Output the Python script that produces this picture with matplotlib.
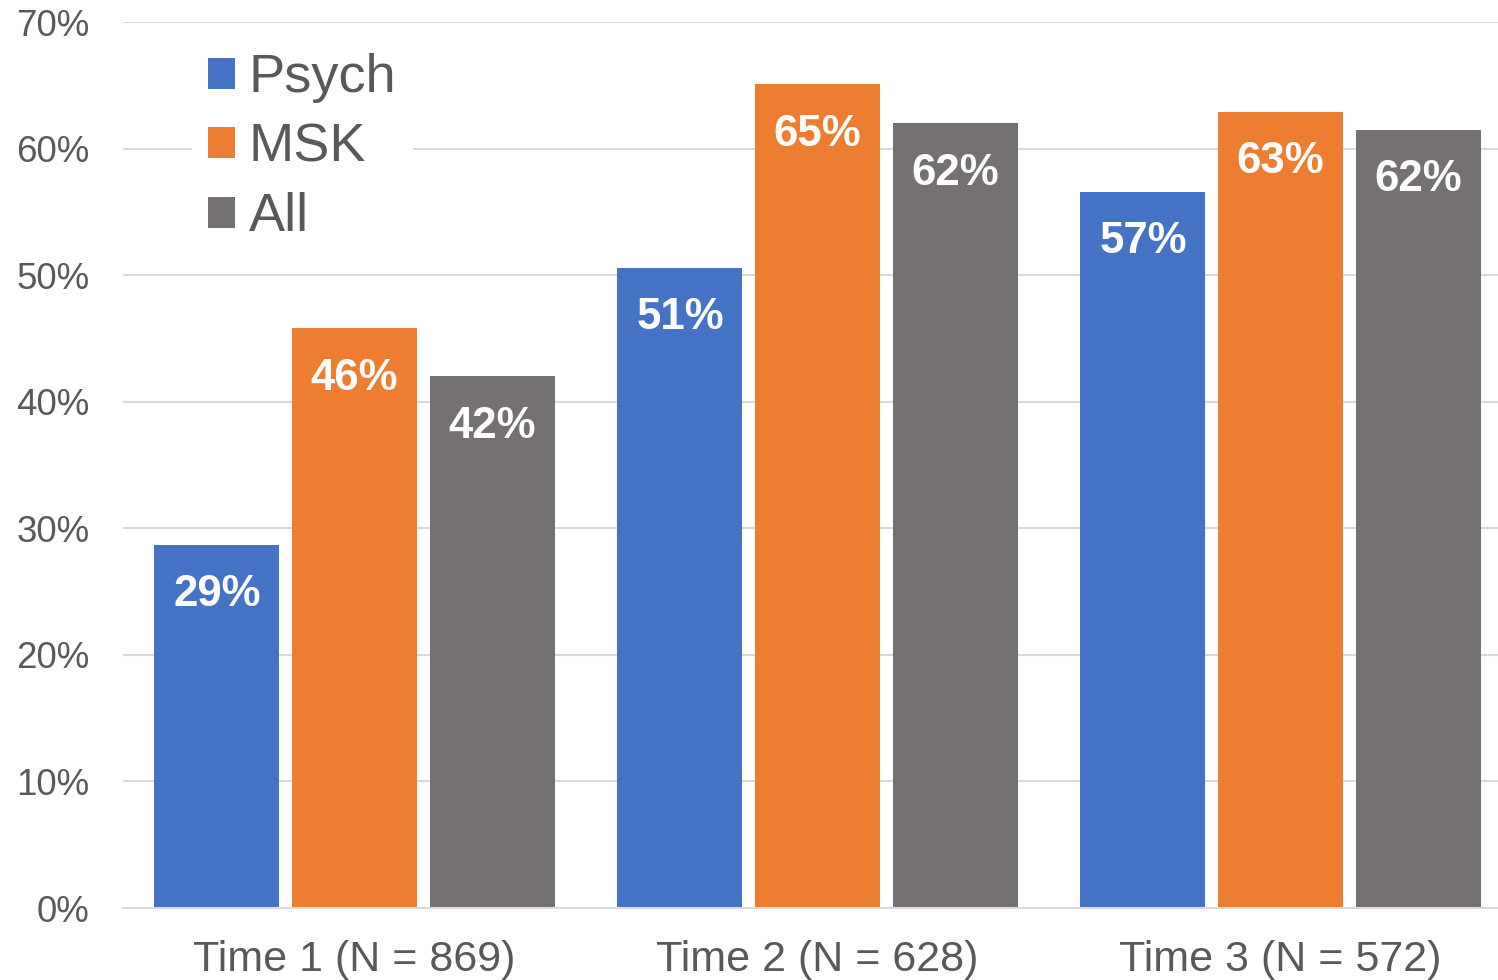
import matplotlib.pyplot as plt
import numpy as np
from matplotlib.patches import Patch

plt.rcParams['font.family'] = ['Liberation Sans', 'DejaVu Sans']

# Share of respondents per group at each time point (%)
groups = ['Time 1 (N = 869)', 'Time 2 (N = 628)', 'Time 3 (N = 572)']
series = ['Psych', 'MSK', 'All']
psych = [28.7, 50.6, 56.6]
msk = [45.8, 65.1, 62.9]
all_ = [42.0, 62.0, 61.5]
colors = ['#4472C4', '#ED7D31', '#767171']
text_grey = '#595959'

fig = plt.figure(figsize=(14.98, 9.8), dpi=100)
ax = fig.add_axes([123 / 1498, 72 / 980, 1389 / 1498, 886 / 980])

x = np.arange(len(groups))
width = 0.27
step = 0.297
for i, (vals, c) in enumerate(zip([psych, msk, all_], colors)):
    bars = ax.bar(x + (i - 1) * step, vals, width, color=c, zorder=2)
    for b, v in zip(bars, vals):
        ax.annotate(f'{v:.0f}%', (b.get_x() + b.get_width() / 2, v),
                    xytext=(0, -36), textcoords='offset points',
                    ha='center', va='center', color='white',
                    fontsize=31.5, fontweight='bold', zorder=3)

ax.set_xlim(-0.5, 2.5)
ax.set_ylim(0, 70)
ax.set_yticks(range(0, 71, 10))
ax.set_yticklabels([f'{t}%' for t in range(0, 71, 10)])
ax.set_xticks(x)
ax.set_xticklabels(groups)
ax.tick_params(axis='y', length=0, pad=24, labelsize=26.5, labelcolor=text_grey)
ax.tick_params(axis='x', length=0, pad=23, labelsize=31, labelcolor=text_grey)
ax.grid(axis='y', color='#D9D9D9', linewidth=1.5, zorder=0)
for s in ['top', 'right', 'left']:
    ax.spines[s].set_visible(False)
ax.spines['bottom'].set_color('#D9D9D9')
ax.spines['bottom'].set_linewidth(1.5)

handles = [Patch(facecolor=c, label=s) for c, s in zip(colors, series)]
leg = ax.legend(handles=handles, loc='upper left',
                bbox_to_anchor=(165 / 1498, 1 - 10 / 980),
                bbox_transform=fig.transFigure,
                fontsize=39, frameon=True, framealpha=1, edgecolor='none',
                handlelength=0.5, handleheight=0.5, handletextpad=0.25,
                labelspacing=0.36, borderpad=0.3, labelcolor=text_grey)

fig.savefig('out.png', dpi=100)
